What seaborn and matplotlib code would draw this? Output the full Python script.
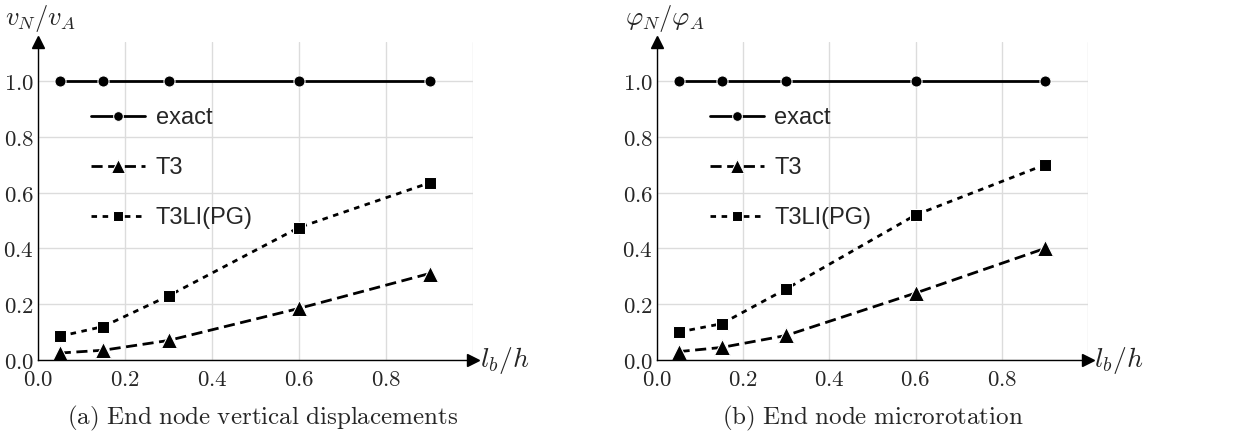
import numpy as np
import pandas as pd
import seaborn as sns
import matplotlib.pyplot as plt
from matplotlib.ticker import MultipleLocator, FuncFormatter

# data
lb_h = [0.05, 0.15, 0.3, 0.6, 0.9]
exact = [1.0, 1.0, 1.0, 1.0, 1.0]
t3_disp = [0.025, 0.035, 0.07, 0.185, 0.31]
t3li_disp = [0.085, 0.12, 0.23, 0.475, 0.635]
t3_rot = [0.03, 0.045, 0.088, 0.24, 0.40]
t3li_rot = [0.10, 0.13, 0.255, 0.52, 0.70]

ylabels = [r"$v_N/v_A$", r"$\varphi_N/\varphi_A$"]
captions = [r"$\mathrm{(a)\ End\ node\ vertical\ displacements}$",
            r"$\mathrm{(b)\ End\ node\ microrotation}$"]

sns.set_style("white")
plt.rcParams["mathtext.fontset"] = "cm"
plt.rcParams["font.family"] = ["Liberation Sans", "DejaVu Sans"]

fig = plt.figure(figsize=(12.43, 4.45), dpi=100)
ax1 = fig.add_axes([38 / 1243, 1 - 360 / 445, 435 / 1243, 318 / 445])
ax2 = fig.add_axes([657 / 1243, 1 - 360 / 445, 431 / 1243, 318 / 445])

panels = [(ax1, t3_disp, t3li_disp), (ax2, t3_rot, t3li_rot)]

for i, (ax, t3, t3li) in enumerate(panels):
    ax.set_axisbelow(True)
    ax.grid(True, color="#dcdcdc", lw=1.0)
    sns.lineplot(x=lb_h, y=exact, ax=ax, color="black", lw=2.0,
                 marker="o", markersize=8, label="exact")
    sns.lineplot(x=lb_h, y=t3, ax=ax, color="black", lw=2.0, dashes=False,
                 linestyle=(0, (4, 2)), marker="^", markersize=11, label="T3")
    sns.lineplot(x=lb_h, y=t3li, ax=ax, color="black", lw=2.0, dashes=False,
                 linestyle=(0, (2, 2)), marker="s", markersize=9, label="T3LI(PG)")

    ax.set_xlim(0, 1.0)
    ax.set_ylim(0, 1.14)
    ax.xaxis.set_major_locator(MultipleLocator(0.2))
    ax.xaxis.set_minor_locator(MultipleLocator(0.05))
    ax.yaxis.set_major_locator(MultipleLocator(0.2))
    ax.yaxis.set_minor_locator(MultipleLocator(0.05))
    ax.xaxis.set_major_formatter(FuncFormatter(lambda v, p: r"$%.1f$" % v if v < 0.95 else ""))
    ax.yaxis.set_major_formatter(FuncFormatter(lambda v, p: r"$%.1f$" % v if v < 1.05 else ""))
    ax.tick_params(which="both", direction="in", labelsize=16.5, color="black")
    ax.tick_params(which="major", length=6, width=0.9)
    ax.tick_params(which="minor", length=3.5, width=0.8)
    ax.tick_params(axis="x", pad=6)
    ax.tick_params(axis="y", pad=3)
    for s in ["top", "right"]:
        ax.spines[s].set_visible(False)
    for s in ["left", "bottom"]:
        ax.spines[s].set_color("black")
        ax.spines[s].set_linewidth(1.0)
    ax.plot(1, 0, ">k", markersize=8, transform=ax.transAxes, clip_on=False)
    ax.plot(0, 1, "^k", markersize=8, transform=ax.transAxes, clip_on=False)

    ax.set_xlabel("")
    ax.set_ylabel("")
    ax.text(1.015, 0.0, r"$l_b/h$", transform=ax.transAxes, fontsize=20,
            ha="left", va="center")
    ax.text(-0.075, 1.075, ylabels[i], transform=ax.transAxes, fontsize=19,
            ha="left", va="center")

    leg = ax.legend(loc="upper left", bbox_to_anchor=(0.1, 0.826), frameon=False,
                    fontsize=17, handlelength=2.3, labelspacing=1.2,
                    handletextpad=0.45, borderaxespad=0)
    for h, ms in zip(leg.legend_handles, [7, 9.5, 6.5]):
        h.set_markersize(ms)

fig.text(263 / 1243, 1 - 418 / 445, captions[0], fontsize=18, ha="center", va="center")
fig.text(873 / 1243, 1 - 418 / 445, captions[1], fontsize=18, ha="center", va="center")

fig.savefig("out.png", dpi=100)
